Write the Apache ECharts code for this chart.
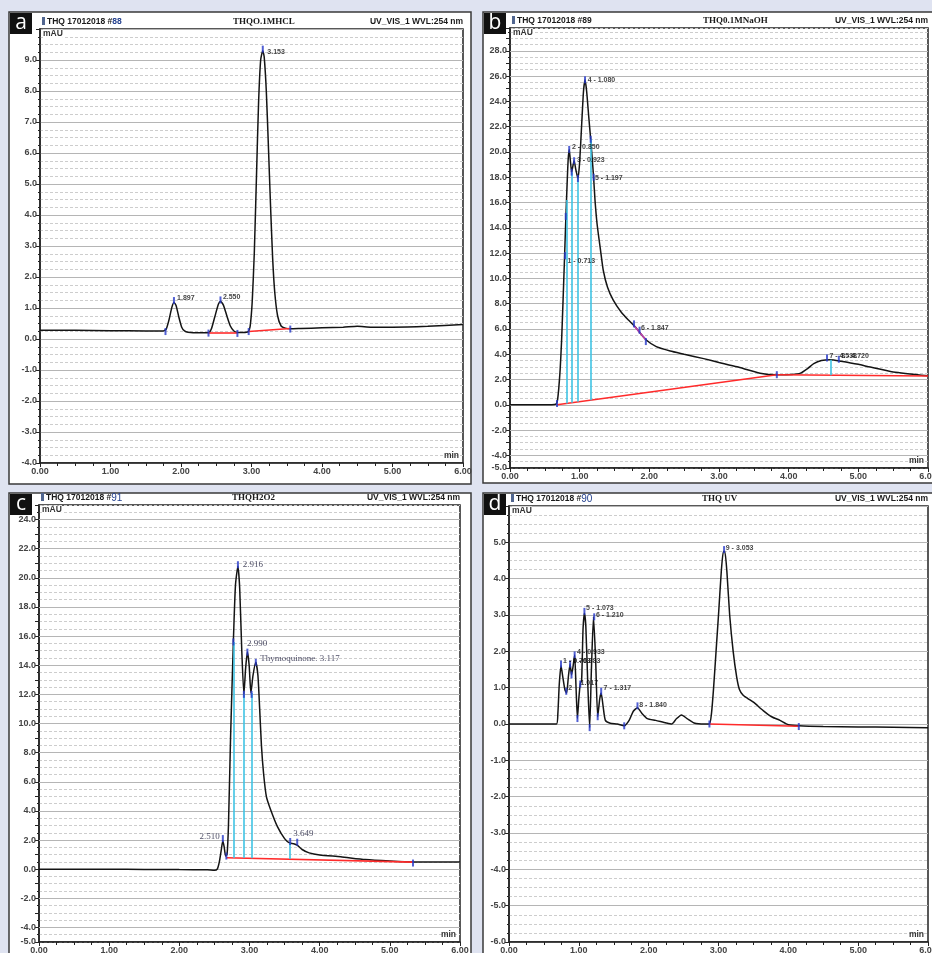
<!DOCTYPE html>
<html><head><meta charset="utf-8">
<script src="https://cdn.jsdelivr.net/npm/echarts@6/dist/echarts.min.js"></script>
<style>html,body{margin:0;padding:0;background:#dfe3f1;}#c{width:932px;height:953px;}</style>
</head><body><div id="c"></div>
<script>
// ================= DATA =================
const xTickLabels = ['0.00','1.00','2.00','3.00','4.00','5.00','6.00'];

// Panel a : THQO.1MHCL
const aCurve = [[0,0.28],[0.5,0.28],[1.0,0.27],[1.5,0.26],[1.75,0.26],[1.79,0.32],[1.83,0.62],[1.87,1.02],[1.90,1.18],[1.93,1.08],[1.97,0.7],[2.01,0.38],[2.05,0.26],[2.1,0.22],[2.25,0.2],[2.39,0.2],[2.43,0.32],[2.48,0.72],[2.53,1.12],[2.56,1.22],[2.60,1.1],[2.65,0.75],[2.70,0.42],[2.75,0.26],[2.80,0.21],[2.88,0.21],[2.95,0.23],[2.98,0.4],[3.01,1.2],[3.04,2.8],[3.07,5.2],[3.10,7.6],[3.13,9.0],[3.16,9.3],[3.18,9.1],[3.21,8.0],[3.24,6.2],[3.27,4.3],[3.30,2.6],[3.33,1.5],[3.37,0.75],[3.42,0.42],[3.48,0.35],[3.55,0.33],[3.7,0.34],[4.0,0.36],[4.3,0.38],[4.5,0.41],[4.7,0.38],[5.0,0.38],[5.5,0.41],[6.0,0.47]];
const aBaseline = [[2.39,0.21,2.80,0.21],[2.96,0.24,3.55,0.34]];
const aDrops = [];
const aMarkX = [1.78,2.39,2.80,2.96,3.55,1.90,2.56,3.16];
const aMarkY = [0.24,0.19,0.18,0.24,0.32,1.24,1.26,9.35];
const aLabelX = [1.93,2.58,3.21];
const aLabelY = [1.31,1.36,9.25];
const aLabelText = ['1.897','2.550','3.153'];

// Panel b : THQ0.1MNaOH
const bCurve = [[0,0],[0.3,0],[0.6,0.01],[0.66,0.05],[0.68,0.3],[0.70,1.3],[0.72,2.8],[0.74,5.0],[0.76,8.0],[0.78,11.2],[0.80,14.5],[0.82,17.5],[0.835,19.4],[0.85,20.2],[0.865,19.4],[0.885,18.4],[0.90,18.8],[0.92,19.3],[0.945,18.6],[0.975,17.9],[1.0,19.2],[1.03,22.3],[1.055,24.8],[1.077,25.7],[1.10,24.8],[1.13,22.8],[1.158,21.0],[1.18,19.5],[1.20,18.0],[1.22,16.2],[1.25,14.3],[1.30,12.2],[1.34,10.6],[1.40,9.3],[1.48,8.3],[1.6,7.3],[1.7,6.7],[1.8,6.15],[1.85,5.8],[1.96,5.1],[2.1,4.6],[2.3,4.25],[2.5,4.0],[2.78,3.65],[3.0,3.35],[3.26,3.0],[3.59,2.5],[3.83,2.38],[4.05,2.4],[4.17,2.5],[4.28,2.9],[4.36,3.25],[4.47,3.5],[4.6,3.57],[4.75,3.45],[5.0,3.2],[5.17,2.98],[5.5,2.6],[6.0,2.3]];
const bBaseline = [[0.675,0.0,3.83,2.38],[3.83,2.38,6.0,2.28]];
const bDrops = [[0.813,0.10,16.2],[0.885,0.16,18.4],[0.975,0.23,17.9],[1.158,0.36,21.0],[4.61,2.33,3.56]];
const bSegment = [[1.78,6.25,1.95,5.15]];
const bMarkX = [0.675,3.83,0.79,0.80,0.85,0.885,0.92,0.975,1.077,1.158,1.20,1.78,1.86,1.95,4.55,4.72];
const bMarkY = [0.1,2.38,11.8,14.9,20.2,18.4,19.3,17.9,25.7,21.0,18.0,6.4,5.9,5.0,3.7,3.6];
const bLabelX = [0.81,0.875,0.947,1.10,1.206,1.866,4.57,4.74];
const bLabelY = [11.4,20.4,19.36,25.7,17.96,6.05,3.85,3.85];
const bLabelText = ['1 - 0.713','2 - 0.850','3 - 0.923','4 - 1.080','5 - 1.197','6 - 1.847','7 - 4.538','8 - 4.720'];
const bMajorTicks = [-4,-2,0,2,4,6,8,10,12,14,16,18,20,22,24,26,28];

// Panel c : THQH2O2
const cCurve = [[0,0],[1.0,0],[1.5,-0.02],[2.0,-0.03],[2.4,-0.04],[2.5,-0.08],[2.54,0.0],[2.57,0.5],[2.6,1.4],[2.62,1.95],[2.64,1.5],[2.66,0.9],[2.68,1.0],[2.70,3.0],[2.73,9.0],[2.77,15.6],[2.80,19.5],[2.835,20.8],[2.86,19.3],[2.89,15.0],[2.92,12.0],[2.945,13.8],[2.97,14.9],[2.995,14.0],[3.02,12.1],[3.05,13.3],[3.09,14.2],[3.12,13.3],[3.145,11.0],[3.17,8.5],[3.20,6.6],[3.24,5.0],[3.30,4.1],[3.40,2.9],[3.50,2.1],[3.57,1.8],[3.63,1.75],[3.68,1.65],[3.75,1.35],[3.85,1.12],[4.0,0.98],[4.3,0.85],[4.65,0.66],[5.0,0.56],[5.33,0.5],[6.0,0.5]];
const cBaseline = [[2.67,0.78,5.33,0.48]];
const cDrops = [[2.77,0.77,15.6],[2.92,0.76,12.0],[3.03,0.75,12.1],[3.58,0.69,1.8]];
const cMarkX = [2.835,2.97,3.09,2.77,2.92,3.03,2.62,2.67,3.58,3.68,5.33];
const cMarkY = [20.9,14.9,14.2,15.6,12.0,12.0,2.1,0.9,1.9,1.85,0.42];
const cLabelX = [2.59,2.89,2.95,3.14,3.61];
const cLabelY = [2.2,20.9,15.45,14.47,2.45];
const cLabelText = ['2.510','2.916','2.990','Thymoquinone. 3.117','3.649'];
const cMajorTicks = [-4,-2,0,2,4,6,8,10,12,14,16,18,20,22,24];

// Panel d : THQ UV
const dCurve = [[0,0],[0.5,0],[0.68,0],[0.70,0.3],[0.72,1.1],[0.745,1.6],[0.77,1.3],[0.80,0.95],[0.825,0.85],[0.85,1.3],[0.875,1.65],[0.895,1.35],[0.915,1.55],[0.94,1.9],[0.96,1.0],[0.98,0.15],[1.0,0.7],[1.02,1.1],[1.04,1.2],[1.06,2.6],[1.08,3.05],[1.10,2.7],[1.13,1.0],[1.155,-0.1],[1.18,1.5],[1.21,2.95],[1.24,1.8],[1.27,0.2],[1.30,0.7],[1.32,0.85],[1.35,0.45],[1.38,0.1],[1.45,0.02],[1.55,0.0],[1.65,-0.05],[1.72,0.1],[1.78,0.35],[1.84,0.45],[1.9,0.3],[1.98,0.15],[2.1,0.1],[2.25,0.03],[2.33,0.0],[2.40,0.15],[2.47,0.25],[2.55,0.15],[2.65,0.03],[2.8,0.0],[2.87,0.0],[2.90,0.3],[2.93,1.0],[2.965,2.0],[3.0,3.0],[3.04,4.2],[3.07,4.75],[3.09,4.75],[3.12,4.2],[3.16,3.0],[3.21,2.0],[3.26,1.3],[3.30,0.95],[3.35,0.8],[3.42,0.7],[3.5,0.6],[3.64,0.37],[3.76,0.2],[3.88,0.1],[4.0,-0.02],[4.15,-0.05],[4.5,-0.07],[5.0,-0.08],[5.5,-0.09],[6.0,-0.1]];
const dBaseline = [[2.87,0.0,4.15,-0.06]];
const dDrops = [];
const dMarkX = [0.745,0.82,0.875,0.895,0.94,0.98,1.02,1.08,1.155,1.22,1.27,1.32,1.65,1.84,2.87,3.08,4.15];
const dMarkY = [1.65,0.9,1.65,1.35,1.9,0.15,1.1,3.1,-0.1,2.95,0.2,0.9,-0.05,0.5,0.0,4.8,-0.07];
const dLabelX = [0.76,0.835,0.90,0.96,1.01,1.09,1.23,1.34,1.85,3.09];
const dLabelY = [1.74,0.99,1.74,1.97,1.14,3.2,3.0,0.99,0.53,4.85];
const dLabelText = ['1 - 0.763','2','3 - 0.883','4 - 0.933','1.017','5 - 1.073','6 - 1.210','7 - 1.317','8 - 1.840','9 - 3.053'];

// Headers
const headLeft = ['THQ 17012018 #','THQ 17012018 #','THQ 17012018 #','THQ 17012018 #'];
const headNum = ['88','89','91','90'];
const headTitle = ['THQO.1MHCL','THQ0.1MNaOH','THQH2O2','THQ UV'];
const headRight = 'UV_VIS_1 WVL:254 nm';
const panelLetters = ['a','b','c','d'];
const yRanges = [[-4,10],[-5,29.8],[-5,25],[-6,6]];

// ================= LAYOUT / STYLE =================
const SANS = '"Liberation Sans", Arial, sans-serif';
const SERIF = '"Liberation Serif", "Times New Roman", serif';
const L = [
  {outer:[9,12,462,472], plot:[40,29,423,434]},
  {outer:[483,12,462,471], plot:[510,28,418,440]},
  {outer:[9,493,462,470], plot:[39,505,421,437]},
  {outer:[483,493,462,470], plot:[509,506,419,436]}
];
const panels = [
  {curve:aCurve, base:aBaseline, drops:aDrops, seg:[], mx:aMarkX, my:aMarkY, lx:aLabelX, ly:aLabelY, lt:aLabelText, majors:null, minor:4, serif:false},
  {curve:bCurve, base:bBaseline, drops:bDrops, seg:bSegment, mx:bMarkX, my:bMarkY, lx:bLabelX, ly:bLabelY, lt:bLabelText, majors:bMajorTicks, minor:2, serif:false},
  {curve:cCurve, base:cBaseline, drops:cDrops, seg:[], mx:cMarkX, my:cMarkY, lx:cLabelX, ly:cLabelY, lt:cLabelText, majors:cMajorTicks, minor:2, serif:true, leftLabels:['2.510']},
  {curve:dCurve, base:dBaseline, drops:dDrops, seg:[], mx:dMarkX, my:dMarkY, lx:dLabelX, ly:dLabelY, lt:dLabelText, majors:null, minor:4, serif:false}
];

const grids=[], xAxes=[], yAxes=[], series=[], graphics=[];
const AX = '#222';
panels.forEach((p,i)=>{
  const [gl,gt,gw,gh] = L[i].plot;
  const [ymin,ymax] = yRanges[i];
  grids.push({left:gl, top:gt, width:gw, height:gh, show:true, borderColor:AX, borderWidth:1.5, backgroundColor:'transparent',
    containLabel:false, outerBoundsMode:'none'});
  xAxes.push({type:'value', gridIndex:i, min:0, max:6, interval:1,
    axisLine:{show:true, onZero:false, lineStyle:{color:AX, width:1.5}},
    axisTick:{show:true, length:4, lineStyle:{color:AX}},
    minorTick:{show:true, splitNumber:4, length:3, lineStyle:{color:AX}},
    splitLine:{show:false},
    axisLabel:{formatter:(v)=>xTickLabels[Math.round(v)] || '', fontSize:9, fontWeight:'bold', color:'#444', margin:4, fontFamily:SANS, hideOverlap:false}
  });
  const isMajor = v => p.majors ? (p.majors.some(m=>Math.abs(m-v)<1e-6) || Math.abs(v-ymin)<1e-6) : true;
  yAxes.push({type:'value', gridIndex:i, min:ymin, max:ymax, interval:1,
    axisLine:{show:true, onZero:false, lineStyle:{color:AX, width:1.5}},
    axisTick:{show:true, length:4, lineStyle:{color:AX}},
    minorTick:{show:true, splitNumber:p.minor, length:2, lineStyle:{color:AX}},
    splitLine:{show:true, lineStyle:{color: p.majors ? '#cdcdcd' : '#b5b5b5', width:1, type: p.majors ? [3,2] : 'solid'}},
    minorSplitLine:{show:true, lineStyle:{color:'#cdcdcd', width:1, type:[3,2]}},
    axisLabel:{formatter:(v)=> (v < ymax-0.01 && isMajor(v)) ? v.toFixed(1) : '', fontSize:9, fontWeight:'bold', color:'#444', margin:3, fontFamily:SANS, hideOverlap:false}
  });

  // annotation lines
  const ann = [];
  p.base.forEach(b=>ann.push([{coord:[b[0],b[1]], lineStyle:{color:'#ff2b2b', width:1.6, type:'solid'}},{coord:[b[2],b[3]]}]));
  p.drops.forEach(d=>ann.push([{coord:[d[0],d[1]], lineStyle:{color:'#3fc3e4', width:1.6, type:'solid'}},{coord:[d[0],d[2]]}]));
  p.seg.forEach(s=>ann.push([{coord:[s[0],s[1]], lineStyle:{color:'#c040b0', width:1.6, type:'solid'}},{coord:[s[2],s[3]]}]));

  series.push({type:'line', xAxisIndex:i, yAxisIndex:i, data:p.curve, showSymbol:false, symbol:'none', smooth:0.2, z:3,
    lineStyle:{color:'#141414', width:1.5}, emphasis:{disabled:true}, silent:true,
    markLine:{silent:true, symbol:['none','none'], label:{show:false}, animation:false, data:ann}
  });
  series.push({type:'scatter', xAxisIndex:i, yAxisIndex:i, data:p.mx.map((x,k)=>[x,p.my[k]]), symbol:'rect', symbolSize:[2,7], z:6,
    itemStyle:{color:'#2638c8'}, emphasis:{disabled:true}, silent:true});
  const lbl = p.lt.map((t,k)=>{
    const left = p.leftLabels && p.leftLabels.includes(t);
    return {name:t, value:[p.lx[k],p.ly[k]], label: left ? {position:'left'} : {}};
  });
  const s = {type:'scatter', xAxisIndex:i, yAxisIndex:i, data:lbl, symbolSize:0, z:7, silent:true, emphasis:{disabled:true},
    label:{show:true, formatter:'{b}', position:'right', distance:1,
      fontSize: p.serif ? 9 : 7, fontWeight: p.serif ? 'normal' : 'bold', color: p.serif ? '#1a1a3a' : '#111', fontFamily: p.serif ? SERIF : SANS}
  };
  if (p.majors) {
    s.markLine = {silent:true, z:1, symbol:['none','none'], label:{show:false}, animation:false,
      lineStyle:{color:'#b5b5b5', width:1, type:'solid'}, data:p.majors.map(v=>({yAxis:v}))};
  }
  series.push(s);

  // frame graphics
  const [ox,oy,ow,oh] = L[i].outer;
  graphics.push({type:'rect', z:-10, shape:{x:ox,y:oy,width:ow,height:oh}, style:{fill:'#ffffff', stroke:'#3a3a3a', lineWidth:1.5}});
  graphics.push({type:'rect', z:60, shape:{x:ox+1,y:oy+1,width:22,height:21}, style:{fill:'#111111'}});
  graphics.push({type:'text', z:61, style:{text:panelLetters[i], x:ox+12, y:oy+11, align:'center', verticalAlign:'middle', fontSize:21, fontFamily:'"Open Sans", '+SANS, fill:'#ffffff'}});
  graphics.push({type:'rect', z:60, shape:{x:gl+2,y:gt-12,width:3,height:8}, style:{fill:'#50658f'}});
  graphics.push({type:'text', z:60, style:{text:headLeft[i]+'{n|'+headNum[i]+'}', x:gl+7, y:gt-7, align:'left', verticalAlign:'middle',
    fontSize:8.5, fontWeight:'bold', fontFamily:SANS, fill:'#1a1a1a',
    rich:{n:{fontSize: i>=2 ? 10 : 8.5, fontWeight: i>=2 ? 'normal':'bold', fill: i===1 ? '#1a1a1a' : '#23408f', fontFamily:SANS}}}});
  graphics.push({type:'text', z:60, style:{text:headTitle[i], x:gl+193, y:gt-7, align:'left', verticalAlign:'middle',
    fontSize:9, fontWeight:'bold', fontFamily:SERIF, fill:'#1a1a1a'}});
  graphics.push({type:'text', z:60, style:{text:headRight, x:gl+gw, y:gt-7, align:'right', verticalAlign:'middle',
    fontSize:8.5, fontWeight:'bold', fontFamily:SANS, fill:'#1a1a1a'}});
  graphics.push({type:'text', z:60, style:{text:'mAU', x:gl+3, y:gt+5, align:'left', verticalAlign:'middle',
    fontSize:8.5, fontWeight:'bold', fontFamily:SANS, fill:'#333', backgroundColor:'#fff'}});
  graphics.push({type:'text', z:60, style:{text:'min', x:gl+gw-4, y:gt+gh-7, align:'right', verticalAlign:'middle',
    fontSize:8.5, fontWeight:'bold', fontFamily:SANS, fill:'#333'}});
});

const chart = echarts.init(document.getElementById('c'), null, {renderer:'canvas', width:932, height:953});
chart.setOption({
  animation:false,
  backgroundColor:'#dfe3f1',
  grid:grids, xAxis:xAxes, yAxis:yAxes, series:series,
  graphic:{elements:graphics}
});
</script>
</body></html>
